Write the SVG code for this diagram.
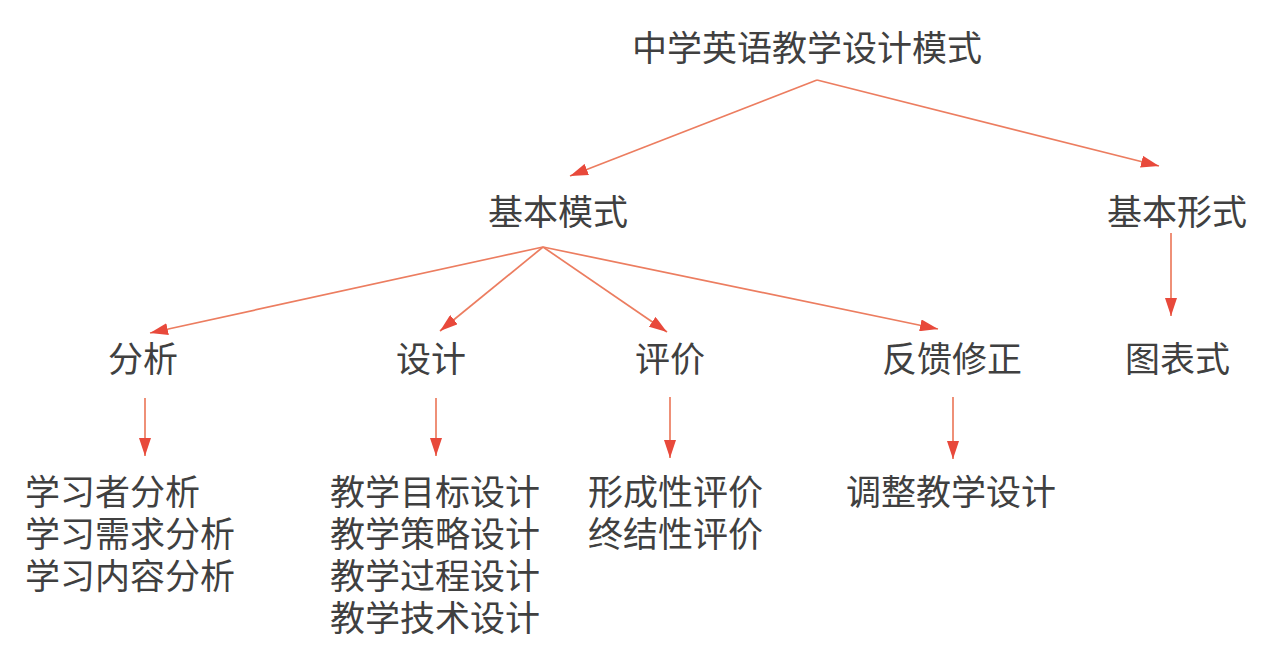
<svg xmlns="http://www.w3.org/2000/svg" width="1280" height="657" viewBox="0 0 1280 657">
<defs>
<style>
text{font-family:"Noto Sans CJK SC","Noto Sans",sans-serif;font-size:35px;fill:#404040;}
.c line{stroke:#ec7d60;stroke-width:1.7;fill:none;marker-end:url(#ah);}
</style>
<marker id="ah" markerUnits="userSpaceOnUse" markerWidth="18" markerHeight="12" refX="18" refY="6" orient="auto">
<path d="M0,0 L18,6 L0,12 z" fill="#e8493b"/>
</marker>
</defs>
<rect width="1280" height="657" fill="#ffffff"/>
<g class="c" id="connectors">
<line x1="817" y1="80" x2="570" y2="176"/>
<line x1="817" y1="80" x2="1159" y2="166"/>
<line x1="543" y1="247" x2="150" y2="333"/>
<line x1="543" y1="247" x2="440" y2="331"/>
<line x1="543" y1="247" x2="667" y2="332"/>
<line x1="543" y1="247" x2="938" y2="329"/>
<line x1="1171" y1="233" x2="1171" y2="316"/>
<line x1="145" y1="398" x2="145" y2="456"/>
<line x1="436" y1="398" x2="436" y2="456"/>
<line x1="670" y1="397" x2="670" y2="458"/>
<line x1="953" y1="397" x2="953" y2="459"/>
</g>
<g id="root"><text x="632" y="61">中学英语教学设计模式</text></g>
<g id="basic-mode"><text x="488" y="225">基本模式</text></g>
<g id="basic-form"><text x="1107" y="225">基本形式</text></g>
<g id="analysis"><text x="108" y="372">分析</text></g>
<g id="design"><text x="396" y="372">设计</text></g>
<g id="evaluation"><text x="635" y="372">评价</text></g>
<g id="feedback"><text x="882" y="372">反馈修正</text></g>
<g id="chart"><text x="1125" y="372">图表式</text></g>
<g id="analysis-items">
<text x="25" y="505">学习者分析</text>
<text x="25" y="547">学习需求分析</text>
<text x="25" y="589">学习内容分析</text>
</g>
<g id="design-items">
<text x="330" y="505">教学目标设计</text>
<text x="330" y="547">教学策略设计</text>
<text x="330" y="589">教学过程设计</text>
<text x="330" y="631">教学技术设计</text>
</g>
<g id="evaluation-items">
<text x="588" y="505">形成性评价</text>
<text x="588" y="547">终结性评价</text>
</g>
<g id="feedback-items">
<text x="846" y="505">调整教学设计</text>
</g>
</svg>
